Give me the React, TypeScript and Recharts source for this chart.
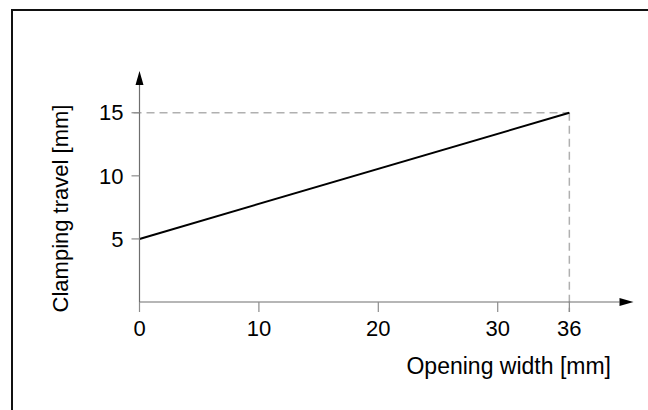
import React from 'react';
import { LineChart, Line, XAxis, YAxis, ReferenceLine, ReferenceDot } from 'recharts';

const openingWidth = [0, 36];
const clampingTravel = [5, 15];
const xTicks = [0, 10, 20, 30, 36];
const yTicks = [5, 10, 15];
const xMax = 40.2;
const yMax = 17.2;

const data = openingWidth.map((x, i) => ({ x, y: clampingTravel[i] }));

const FONT = '"Liberation Sans", Arial, Helvetica, sans-serif';
const AXIS_COLOR = '#6e6e6e';
const TICK_COLOR = '#8c8c8c';
const DASH_COLOR = '#b0b0b0';
const TICK_FONT = 22;

const XTick = (props: any) => {
  const { x, y, payload } = props;
  return (
    <text x={x} y={y + TICK_FONT * 0.72} textAnchor="middle" fontFamily={FONT} fontSize={TICK_FONT} fill="#000">
      {payload.value}
    </text>
  );
};

const YTick = (props: any) => {
  const { x, y, payload } = props;
  return (
    <text x={x} y={y + TICK_FONT * 0.35} textAnchor="end" fontFamily={FONT} fontSize={TICK_FONT} fill="#000">
      {payload.value}
    </text>
  );
};

const XLabel = (props: any) => {
  const vb = props.viewBox || {};
  const right = vb.x + vb.width;
  return (
    <text x={right - 8.5} y={vb.y + 72} textAnchor="end" fontFamily={FONT} fontSize={23} fill="#000">
      Opening width [mm]
    </text>
  );
};

const YLabel = (props: any) => {
  const vb = props.viewBox || {};
  const x = vb.x - 11.5;
  const y = vb.y + vb.height / 2 + 15;
  return (
    <text x={x} y={y} transform={`rotate(-90 ${x} ${y})`} textAnchor="middle" fontFamily={FONT} fontSize={22} fill="#000">
      Clamping travel [mm]
    </text>
  );
};

const RightArrow = (props: any) => {
  const { cx, cy } = props;
  return <polygon points={`${cx},${cy - 4} ${cx + 14},${cy} ${cx},${cy + 4}`} fill="#000" />;
};

const UpArrow = (props: any) => {
  const { cx, cy } = props;
  return <polygon points={`${cx - 4},${cy} ${cx},${cy - 14} ${cx + 4},${cy}`} fill="#000" />;
};

export default function App() {
  return (
    <div style={{ position: 'absolute', left: 0, top: 0, width: 648, height: 410, background: '#fff', overflow: 'hidden' }}>
      <div
        style={{
          position: 'absolute',
          left: 11,
          top: 9,
          width: 648,
          height: 420,
          borderTop: '2px solid #111',
          borderLeft: '2px solid #111',
        }}
      />
      <div style={{ position: 'absolute', left: 0, top: 0 }}>
        <LineChart width={648} height={410} data={data} margin={{ top: 85, right: 28.5, bottom: 78, left: 79.5 }}>
          <XAxis
            type="number"
            dataKey="x"
            domain={[0, xMax]}
            ticks={xTicks}
            interval={0}
            allowDataOverflow
            height={30}
            axisLine={{ stroke: AXIS_COLOR, strokeWidth: 1.2 }}
            tickLine={{ stroke: TICK_COLOR, strokeWidth: 1.2 }}
            tickSize={10}
            tickMargin={8}
            tick={<XTick />}
            label={<XLabel />}
          />
          <YAxis
            type="number"
            domain={[0, yMax]}
            ticks={yTicks}
            interval={0}
            allowDataOverflow
            width={60}
            axisLine={{ stroke: AXIS_COLOR, strokeWidth: 1.2 }}
            tickLine={{ stroke: TICK_COLOR, strokeWidth: 1.2 }}
            tickSize={8}
            tickMargin={8}
            tick={<YTick />}
            label={<YLabel />}
          />
          <ReferenceLine
            segment={[{ x: -0.5, y: clampingTravel[1] }, { x: openingWidth[1], y: clampingTravel[1] }]}
            stroke={DASH_COLOR}
            strokeWidth={1.5}
            strokeDasharray="8 5"
            ifOverflow="visible"
          />
          <ReferenceLine
            segment={[{ x: openingWidth[1], y: clampingTravel[1] }, { x: openingWidth[1], y: -0.8 }]}
            stroke={DASH_COLOR}
            strokeWidth={1.5}
            strokeDasharray="8 5"
            ifOverflow="visible"
          />
          <Line
            type="linear"
            dataKey="y"
            stroke="#000"
            strokeWidth={2}
            dot={false}
            activeDot={false}
            isAnimationActive={false}
          />
          <ReferenceDot x={xMax} y={0} ifOverflow="visible" shape={<RightArrow />} />
          <ReferenceDot x={0} y={yMax} ifOverflow="visible" shape={<UpArrow />} />
        </LineChart>
      </div>
    </div>
  );
}
